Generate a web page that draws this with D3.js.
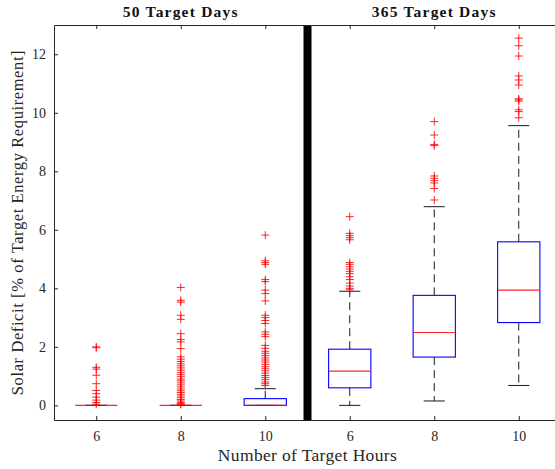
<!DOCTYPE html>
<html>
<head>
<meta charset="utf-8">
<script src="https://cdn.jsdelivr.net/npm/d3@7/dist/d3.min.js"></script>
<style>
  html, body { margin: 0; padding: 0; background: #fff; }
  svg { display: block; font-family: "Liberation Serif", "Times New Roman", serif; }
</style>
</head>
<body>
<svg id="chart" width="555" height="469"></svg>
<script>
// Box-plot groups: three target-hour settings per target-day panel
const hourLabels = ["6", "8", "10", "6", "8", "10"];
const panelTitles = ["50 Target Days", "365 Target Days"];
const panelCenters = [2, 5];
const dividerAt = 3.5;

const q1          = [0, 0, 0,    0.60, 1.65, 2.83];
const median      = [0, 0, 0,    1.17, 2.49, 3.94];
const q3          = [0, 0, 0.23, 1.92, 3.76, 5.59];
const whiskerLow  = [0, 0, 0,    0.00, 0.15, 0.68];
const whiskerHigh = [0, 0, 0.57, 3.90, 6.79, 9.56];

const outliers = [
  [2.00, 1.97, 1.30, 1.24, 1.03, 0.74, 0.51, 0.40, 0.28, 0.18, 0.10, 0.04],
  [4.03, 3.59, 3.53, 3.08, 2.94, 2.45, 2.25, 2.17, 1.94, 1.66, 1.58, 1.50, 1.42,
   1.35, 1.28, 1.20, 1.12, 1.05, 0.98, 0.90, 0.84, 0.77, 0.70, 0.63, 0.56, 0.50,
   0.44, 0.38, 0.32, 0.26, 0.20, 0.15, 0.10, 0.06, 0.03],
  [5.82, 4.94, 4.88, 4.82, 4.30, 4.23, 3.94, 3.82, 3.57, 3.08, 3.00, 2.90, 2.80,
   2.51, 2.43, 2.35, 2.05, 1.95, 1.85, 1.78, 1.70, 1.62, 1.55, 1.48, 1.40, 1.32,
   1.25, 1.18, 1.10, 1.02, 0.95, 0.88, 0.80, 0.74, 0.68],
  [6.45, 5.88, 5.80, 5.73, 5.66, 4.88, 4.82, 4.74, 4.66, 4.58, 4.50, 4.40, 4.30,
   4.18, 4.08, 4.00, 3.95],
  [9.70, 9.24, 8.92, 8.88, 7.84, 7.76, 7.68, 7.60, 7.41, 7.02],
  [12.55, 12.29, 11.94, 11.26, 11.12, 10.95, 10.48, 10.44, 10.40, 10.10, 10.04, 9.83]
];

const yTicks = [0, 2, 4, 6, 8, 10, 12];
const yDomain = [-0.5, 13];
const xDomain = [0.5, 6.5];

const xTitle = "Number of Target Hours";
const yTitle = "Solar Deficit [% of Target Energy Requirement]";

// Layout
const plot = { left: 54, top: 25, right: 561, bottom: 420 };
const axisColor = "#262626";

const svg = d3.select("#chart");
const x = d3.scaleLinear().domain(xDomain).range([plot.left, plot.right]);
const y = d3.scaleLinear().domain(yDomain).range([plot.bottom, plot.top]);
const unit = x(2) - x(1);
const boxHalf = unit * 0.25;
const capHalf = unit * 0.125;

const groups = hourLabels.map((h, i) => ({
  pos: i + 1, q1: q1[i], median: median[i], q3: q3[i],
  lo: whiskerLow[i], hi: whiskerHigh[i], out: outliers[i]
}));

const g = svg.append("g");

// Whiskers (dashed) and caps
groups.forEach(d => {
  const cx = x(d.pos);
  [[d.q3, d.hi], [d.q1, d.lo]].forEach(([a, b]) => {
    if (a !== b) {
      g.append("line").attr("x1", cx).attr("x2", cx)
        .attr("y1", y(a)).attr("y2", y(b))
        .attr("stroke", "#1a1a1a").attr("stroke-width", 1)
        .attr("stroke-dasharray", "8,5");
    }
  });
  [d.hi, d.lo].forEach(v => {
    g.append("line").attr("x1", cx - capHalf).attr("x2", cx + capHalf)
      .attr("y1", y(v)).attr("y2", y(v))
      .attr("stroke", "#1a1a1a").attr("stroke-width", 1);
  });
});

// Boxes
g.selectAll("rect.box").data(groups).join("rect")
  .attr("class", "box")
  .attr("x", d => x(d.pos) - boxHalf)
  .attr("width", boxHalf * 2)
  .attr("y", d => y(d.q3))
  .attr("height", d => Math.max(0, y(d.q1) - y(d.q3)))
  .attr("fill", "none").attr("stroke", "#0000ff").attr("stroke-width", 1.1);

// Medians
g.selectAll("line.med").data(groups).join("line")
  .attr("class", "med")
  .attr("x1", d => x(d.pos) - boxHalf).attr("x2", d => x(d.pos) + boxHalf)
  .attr("y1", d => y(d.median)).attr("y2", d => y(d.median))
  .attr("stroke", "#ff0000").attr("stroke-width", 1.1).attr("stroke-opacity", 0.85);

// Outlier markers (+)
groups.forEach(d => {
  g.selectAll(null).data(d.out).join("path")
    .attr("transform", v => `translate(${x(d.pos)},${y(v)})`)
    .attr("d", "M-4,0H4M0,-4V4")
    .attr("fill", "none").attr("stroke", "#ff0000").attr("stroke-width", 1)
    .attr("stroke-opacity", 0.85);
});

// Panel divider
g.append("rect")
  .attr("x", x(dividerAt) - 4).attr("width", 8)
  .attr("y", plot.top).attr("height", plot.bottom - plot.top)
  .attr("fill", "#000");

// Axes (ticks pointing inward)
const xBottom = d3.axisBottom(x).tickValues(d3.range(1, 7))
  .tickFormat((d, i) => hourLabels[i]).tickSizeInner(-4).tickSizeOuter(0).tickPadding(11);
const xTop = d3.axisTop(x).tickValues(d3.range(1, 7))
  .tickFormat("").tickSizeInner(-4).tickSizeOuter(0);
const yLeft = d3.axisLeft(y).tickValues(yTicks)
  .tickFormat(d3.format("d")).tickSizeInner(-4).tickSizeOuter(0).tickPadding(8);

function styleAxis(sel) {
  sel.selectAll("path.domain").attr("stroke", axisColor).attr("stroke-width", 1);
  sel.selectAll(".tick line").attr("stroke", axisColor).attr("stroke-width", 1);
  sel.selectAll(".tick text").attr("fill", "#262626")
    .style("font-family", '"Liberation Serif", serif').style("font-size", "14px");
}

svg.append("g").attr("transform", `translate(0,${plot.bottom})`).call(xBottom).call(styleAxis);
svg.append("g").attr("transform", `translate(0,${plot.top})`).call(xTop).call(styleAxis);
svg.append("g").attr("transform", `translate(${plot.left},0)`).call(yLeft).call(styleAxis);

// Panel titles
svg.selectAll("text.ptitle").data(panelTitles).join("text")
  .attr("class", "ptitle")
  .attr("x", (d, i) => x(panelCenters[i]))
  .attr("y", 17)
  .attr("text-anchor", "middle")
  .attr("font-weight", "bold")
  .attr("font-size", 15.5)
  .attr("letter-spacing", 1.2)
  .attr("fill", "#111")
  .text(d => d);

// Axis titles
svg.append("text")
  .attr("x", x(dividerAt)).attr("y", 461)
  .attr("text-anchor", "middle").attr("font-size", 17.5)
  .attr("letter-spacing", 0.35).attr("fill", "#262626")
  .text(xTitle);

svg.append("text")
  .attr("transform", `translate(23,${(plot.top + plot.bottom) / 2}) rotate(-90)`)
  .attr("text-anchor", "middle").attr("font-size", 16.5)
  .attr("letter-spacing", 0.6).attr("fill", "#262626")
  .text(yTitle);
</script>
</body>
</html>
